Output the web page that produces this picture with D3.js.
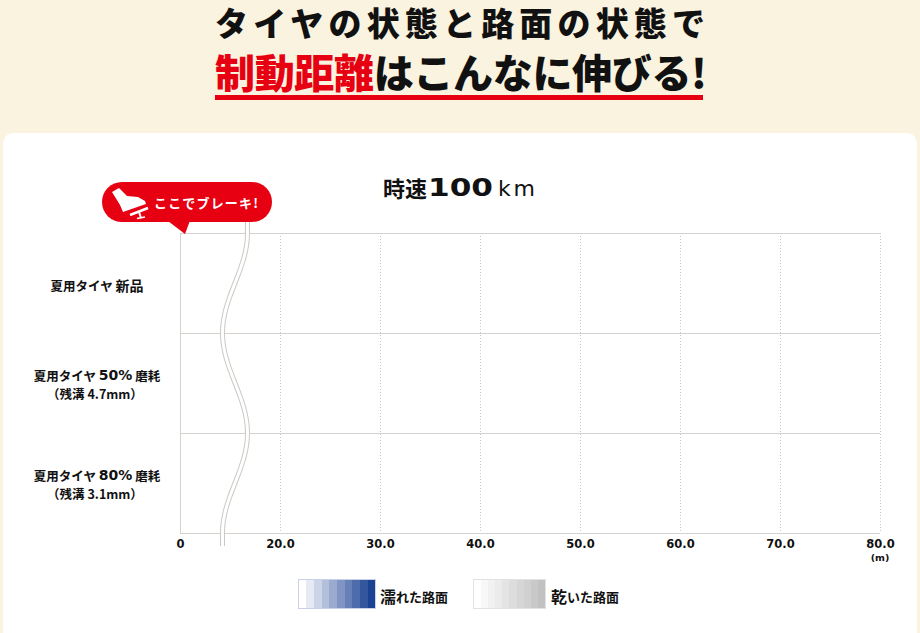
<!DOCTYPE html>
<html lang="ja">
<head>
<meta charset="utf-8">
<script src="https://cdn.jsdelivr.net/npm/d3@7"></script>
<style>
  html, body { margin: 0; padding: 0; background: #faf3df; }
  svg { display: block; }
  text { font-family: "Noto Sans CJK JP", sans-serif; }
  .num { font-family: "DejaVu Sans", sans-serif; font-weight: bold; }
</style>
</head>
<body>
<div id="chart"></div>
<script>
// データ
const titleLine1 = 'タイヤの状態と路面の状態で';
const titleRed = '制動距離';
const titleRest = 'はこんなに伸びる!';
const speedLabel = ['時速', '100', 'km'];
const categories = ['new', 'wear50', 'wear80'];
const catLine1 = [
  ['夏用タイヤ ', '新品'],
  ['夏用タイヤ ', '50%', ' 磨耗'],
  ['夏用タイヤ ', '80%', ' 磨耗']
];
const catLine2 = ['', '（残溝 4.7mm）', '（残溝 3.1mm）'];
const tickValues = [0, 20, 30, 40, 50, 60, 70, 80];
const tickLabels = ['0', '20.0', '30.0', '40.0', '50.0', '60.0', '70.0', '80.0'];
const legendLabels = [['濡', 'れた路面'], ['乾', 'いた路面']];
const legendEnds = [['#ffffff', '#1b4193'], ['#ffffff', '#c2c2c2']];
const legendBorders = ['#c8d1e8', '#e2e2e2'];

const W = 920, H = 633;
const svg = d3.select('#chart').append('svg')
  .attr('width', W).attr('height', H);

// 背景
svg.append('rect').attr('width', W).attr('height', H).attr('fill', '#faf3df');
svg.append('rect')
  .attr('x', 3).attr('y', 133).attr('width', 914).attr('height', 520)
  .attr('rx', 10).attr('fill', '#fff');

// タイトル
svg.append('text')
  .attr('x', 215).attr('y', 22)
  .attr('dominant-baseline', 'central')
  .attr('textLength', 490).attr('lengthAdjust', 'spacing')
  .style('font-size', '33px').style('font-weight', 900)
  .attr('fill', '#111')
  .text(titleLine1);

const t2 = svg.append('text')
  .attr('x', 215).attr('y', 71)
  .attr('dominant-baseline', 'central')
  .attr('textLength', 492).attr('lengthAdjust', 'spacing')
  .style('font-size', '40px').style('font-weight', 900);
t2.append('tspan').attr('fill', '#e60012').text(titleRed);
t2.append('tspan').attr('fill', '#111').text(titleRest);

svg.append('rect')
  .attr('x', 215).attr('y', 95).attr('width', 488).attr('height', 5)
  .attr('fill', '#e60012');

// 時速100km
svg.append('text').attr('x', 383).attr('y', 187)
  .attr('dominant-baseline', 'central')
  .style('font-size', '22px').style('font-weight', 700).attr('fill', '#111')
  .text(speedLabel[0]);
svg.append('text').attr('x', 428).attr('y', 196)
  .attr('class', 'num')
  .attr('textLength', 65).attr('lengthAdjust', 'spacingAndGlyphs')
  .style('font-size', '24px').attr('fill', '#111')
  .text(speedLabel[1]);
svg.append('text').attr('x', 498).attr('y', 196)
  .attr('textLength', 37).attr('lengthAdjust', 'spacing')
  .style('font-family', '"DejaVu Sans", sans-serif')
  .style('font-size', '22px').style('font-weight', 400).attr('fill', '#111')
  .text(speedLabel[2]);

// スケール
const x = d3.scaleLinear().domain([0, 20, 80]).range([180, 280, 880]);
const y = d3.scaleBand().domain(categories).range([233, 533]);

const g = svg.append('g');

// 縦の点線
g.selectAll('.vgrid')
  .data(tickValues.filter(d => d > 0))
  .enter().append('line')
  .attr('class', 'vgrid')
  .attr('x1', d => x(d) + 0.5).attr('x2', d => x(d) + 0.5)
  .attr('y1', y.range()[0]).attr('y2', y.range()[1])
  .attr('stroke', '#c4c4c4').attr('stroke-dasharray', '1,2');

// 横線
const rowEdges = categories.map(c => y(c)).concat([y.range()[1]]);
g.selectAll('.hgrid')
  .data(rowEdges)
  .enter().append('line')
  .attr('class', 'hgrid')
  .attr('x1', x(0)).attr('x2', x(80))
  .attr('y1', d => d + 0.5).attr('y2', d => d + 0.5)
  .attr('stroke', '#d6d1cc');

g.append('line')
  .attr('x1', x(0) + 0.5).attr('x2', x(0) + 0.5)
  .attr('y1', y.range()[0]).attr('y2', y.range()[1])
  .attr('stroke', '#d6d1cc');

// X軸
const xAxis = d3.axisBottom(x)
  .tickValues(tickValues)
  .tickFormat((d, i) => tickLabels[i])
  .tickSize(0).tickPadding(7);
const axisG = svg.append('g')
  .attr('transform', `translate(0,${y.range()[1]})`)
  .call(xAxis);
axisG.select('.domain').remove();
axisG.selectAll('text')
  .attr('class', 'num')
  .style('font-size', '11.5px').attr('fill', '#111');
svg.append('text')
  .attr('x', x(80)).attr('y', 561)
  .attr('text-anchor', 'middle').attr('class', 'num')
  .style('font-size', '9.5px').attr('fill', '#111')
  .text('(m)');

// 軸の省略線（波線）
const waveC = x(11), waveA = 12.5;
const wavePts = [[waveC + waveA, 186]];
d3.range(233, 534, 4).forEach(py => {
  wavePts.push([waveC + waveA * Math.cos(Math.PI * (py - 233) / 100), py]);
});
wavePts.push([waveC - waveA, 546]);
const waveLine = d3.line().curve(d3.curveBasis);
svg.append('path').attr('d', waveLine(wavePts))
  .attr('fill', 'none').attr('stroke', '#cdc8c3').attr('stroke-width', 5);
svg.append('path').attr('d', waveLine(wavePts))
  .attr('fill', 'none').attr('stroke', '#fff').attr('stroke-width', 3);

// カテゴリラベル
categories.forEach((c, i) => {
  const cy = y(c) + y.bandwidth() / 2;
  const twoLines = catLine2[i] !== '';
  const l1 = svg.append('text')
    .attr('x', 97).attr('y', twoLines ? cy - 8 : cy + 2)
    .attr('text-anchor', 'middle').attr('dominant-baseline', 'central')
    .style('font-size', '12.5px').style('font-weight', 700).attr('fill', '#111');
  catLine1[i].forEach(part => {
    const ts = l1.append('tspan').text(part);
    if (/%/.test(part)) ts.attr('class', 'num').style('font-size', '14px');
    if (part === '新品') ts.style('font-size', '14px');
  });
  if (twoLines) {
    svg.append('text')
      .attr('x', 95).attr('y', cy + 10)
      .attr('text-anchor', 'middle').attr('dominant-baseline', 'central')
      .style('font-size', '12.5px').style('font-weight', 700).attr('fill', '#111')
      .text(catLine2[i]);
  }
});

// 吹き出し「ここでブレーキ!」
const bubble = svg.append('g');
bubble.append('path')
  .attr('d', 'M164,218 L185,234 L191,218 Z')
  .attr('fill', '#e60012');
bubble.append('rect')
  .attr('x', 102).attr('y', 182).attr('width', 170).attr('height', 40)
  .attr('rx', 20).attr('fill', '#e60012');
// ブーツのアイコン
bubble.append('path')
  .attr('d', 'M112,192 L119,188 L127,196 L138,197 L145,201 L146,204 L123,212 L120,205 Z')
  .attr('fill', '#fff');
bubble.append('line')
  .attr('x1', 130).attr('y1', 215).attr('x2', 148).attr('y2', 208)
  .attr('stroke', '#fff').attr('stroke-width', 2.5);
bubble.append('line')
  .attr('x1', 139).attr('y1', 212).attr('x2', 141).attr('y2', 218)
  .attr('stroke', '#fff').attr('stroke-width', 2);
bubble.append('line')
  .attr('x1', 137).attr('y1', 218.5).attr('x2', 145).attr('y2', 217)
  .attr('stroke', '#fff').attr('stroke-width', 1.5);
bubble.append('text')
  .attr('x', 154).attr('y', 202)
  .attr('dominant-baseline', 'central')
  .attr('textLength', 104).attr('lengthAdjust', 'spacing')
  .style('font-size', '13px').style('font-weight', 700).attr('fill', '#fff')
  .text('ここでブレーキ!');

// 凡例
const defs = svg.append('defs');
const steps = 10;
legendEnds.forEach((ends, k) => {
  const grad = defs.append('linearGradient').attr('id', 'lg' + k);
  const interp = d3.interpolateRgb(ends[0], ends[1]);
  d3.range(steps).forEach(s => {
    const col = interp(s / (steps - 1));
    grad.append('stop').attr('offset', s / steps).attr('stop-color', col);
    grad.append('stop').attr('offset', (s + 1) / steps).attr('stop-color', col);
  });
});
const legendX = [298, 473];
const legendTextX = [380, 551];
legendLabels.forEach((lab, k) => {
  svg.append('rect')
    .attr('x', legendX[k] + 0.5).attr('y', 579.5)
    .attr('width', k === 0 ? 77 : 72).attr('height', 29)
    .attr('fill', `url(#lg${k})`)
    .attr('stroke', legendBorders[k]);
  const t = svg.append('text')
    .attr('x', legendTextX[k]).attr('y', 596)
    .attr('dominant-baseline', 'central')
    .style('font-weight', 700).attr('fill', '#111');
  t.append('tspan').style('font-size', '16px').text(lab[0]);
  t.append('tspan').style('font-size', '13px').text(lab[1]);
});
</script>
</body>
</html>
